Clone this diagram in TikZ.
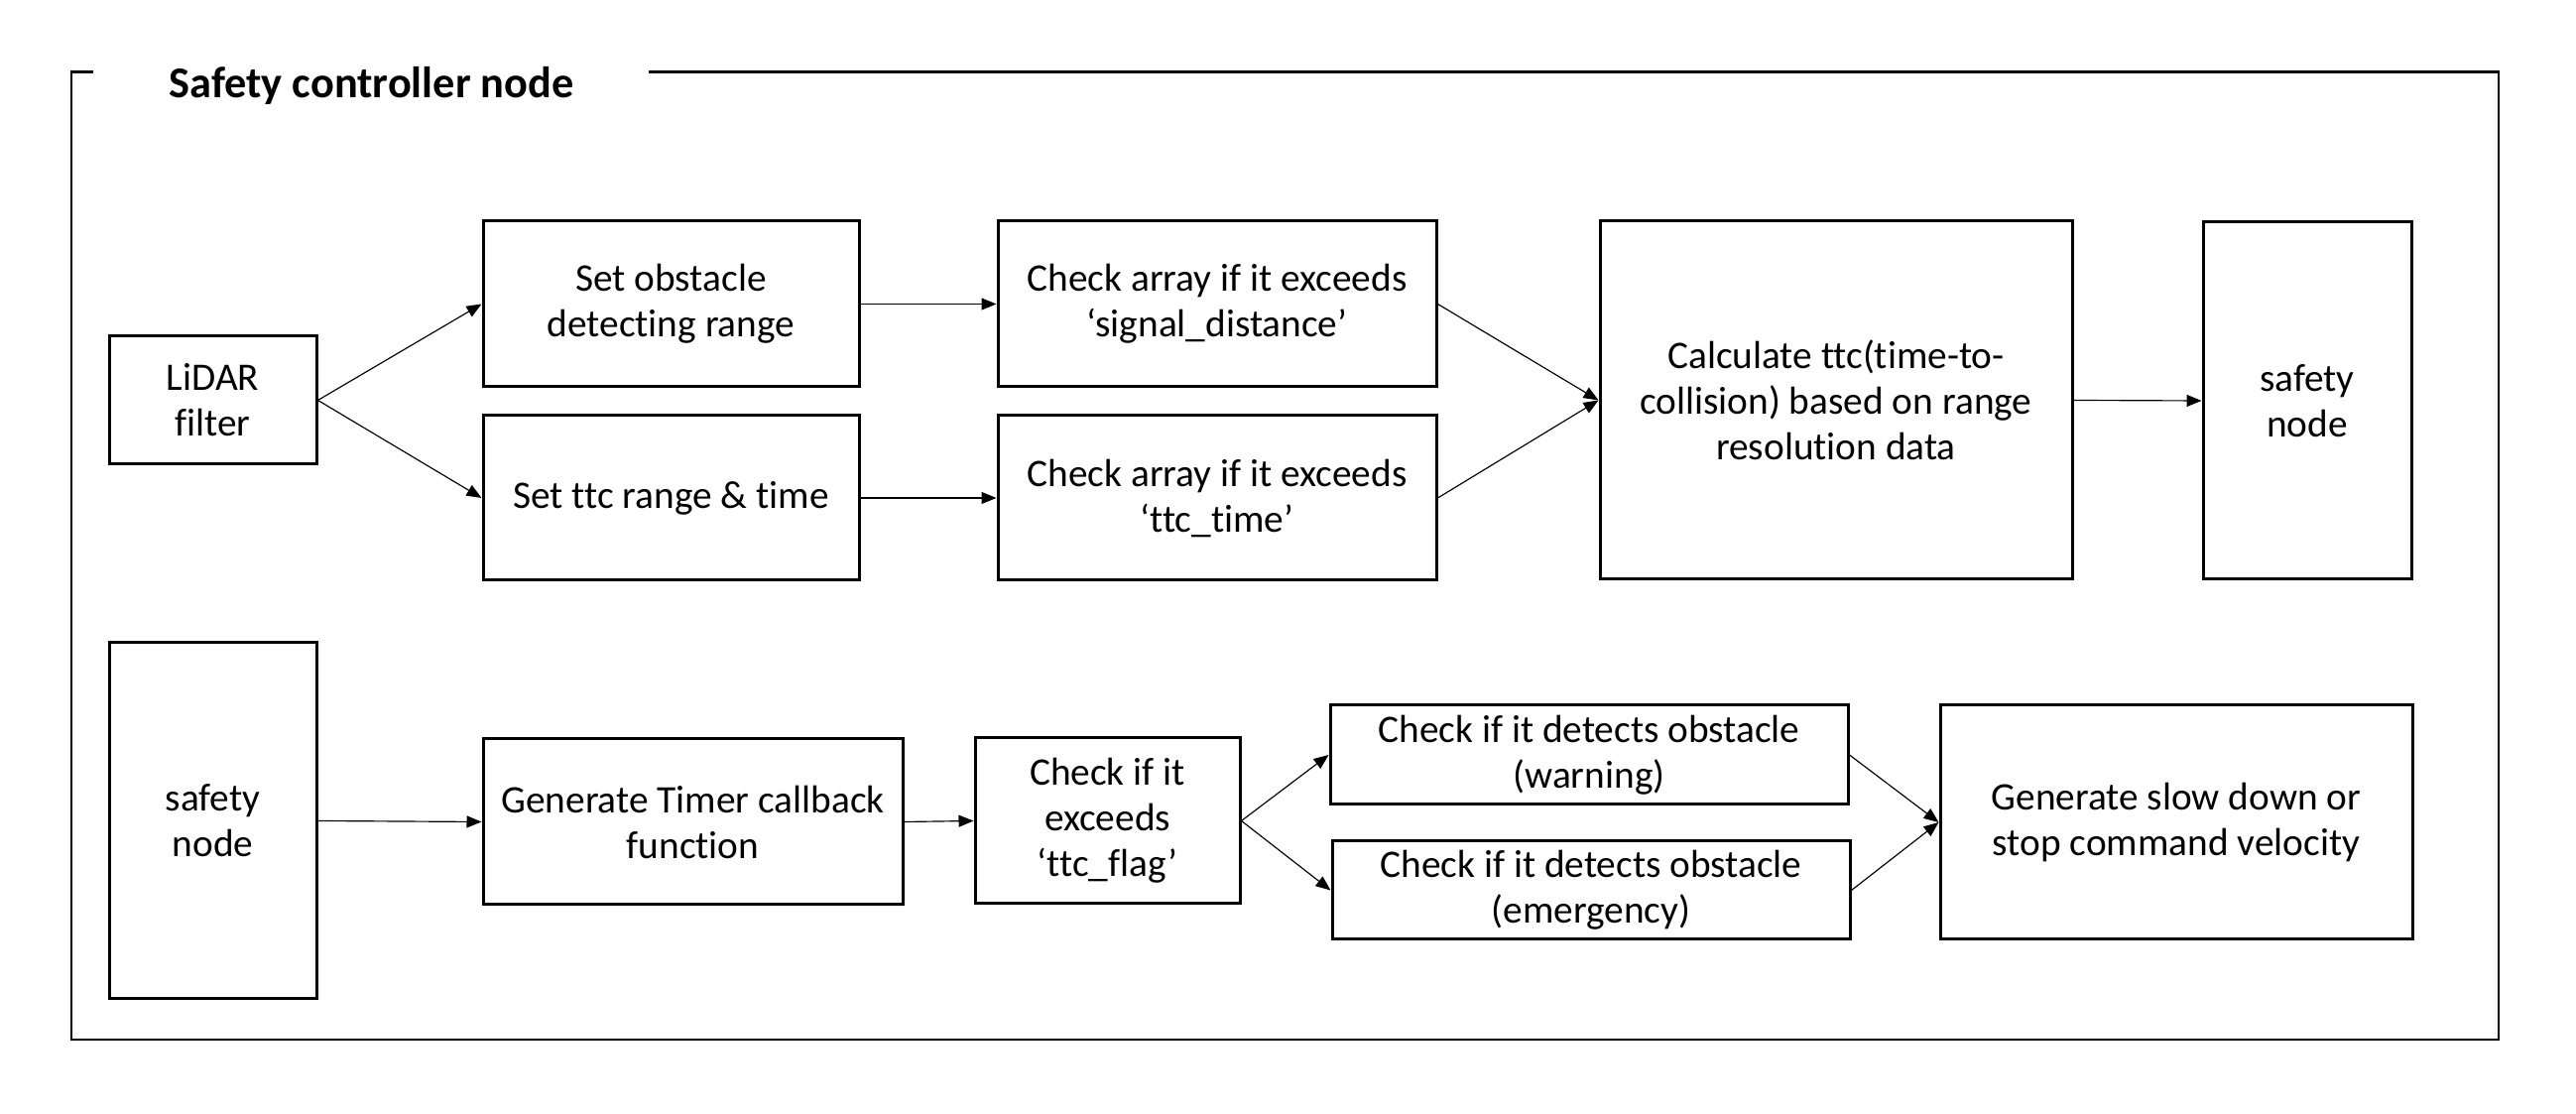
\documentclass[tikz,border=0pt]{standalone}
\usepackage{fontspec}
\setmainfont[Ligatures={NoCommon,TeX}]{Carlito}
\usetikzlibrary{arrows.meta}
\tikzset{
  box/.style={draw, line width=0.9pt, rectangle, inner sep=0pt, align=center,
    font=\fontsize{11.8}{13.8}\selectfont},
  conn/.style={line width=0.35pt, -{Triangle[length=4.5pt,width=3.6pt]}},
  frame/.style={line width=0.75pt}
}
\begin{document}
\begin{tikzpicture}[x=0.3pt,y=-0.3pt]
\useasboundingbox (0,0) rectangle (2597,1123);
% frame
\node[anchor=base west, inner sep=0pt, font=\fontsize{13.3}{15}\selectfont\bfseries] (title) at (170,99) {Safety controller node};
\draw[frame] (94,72.7) -- (72,72.7) -- (72,1048) -- (2519,1048) -- (2519,72.7) -- (654,72.7);
% top row
\node[box, minimum width=62.7pt, minimum height=38.7pt] (lidar) at (214.5,403.5) {LiDAR\\filter};
\node[box, minimum width=113.7pt, minimum height=50.1pt] (setobs) at (676.5,306.5) {Set obstacle\\detecting range};
\node[box, minimum width=113.7pt, minimum height=49.8pt] (setttc) at (676.5,502) {Set ttc range \& time};
\node[box, minimum width=132.6pt, minimum height=50.1pt] (chk1) at (1227,306.5) {Check array if it exceeds\\‘signal\_distance’};
\node[box, minimum width=132.6pt, minimum height=49.8pt] (chk2) at (1227,502) {Check array if it exceeds\\‘ttc\_time’};
\node[box, minimum width=142.8pt, minimum height=108.3pt] (calc) at (1851,403.5) {Calculate ttc(time-to-\\collision) based on range\\resolution data};
\node[box, minimum width=63pt, minimum height=108pt] (safe1) at (2326,404) {safety\\node};
% bottom row
\node[box, minimum width=62.7pt, minimum height=107.7pt] (safe2) at (214.5,827.5) {safety\\node};
\node[box, minimum width=126.9pt, minimum height=50.1pt] (timer) at (698.5,828.5) {Generate Timer callback\\function};
\node[box, minimum width=80.1pt, minimum height=50.1pt] (chk3) at (1116.5,827.5) {Check if it\\exceeds\\‘ttc\_flag’};
\node[box, minimum width=156.6pt, minimum height=30pt] (warn) at (1602,761) {Check if it detects obstacle\\(warning)};
\node[box, minimum width=156.6pt, minimum height=29.7pt] (emerg) at (1604,897.5) {Check if it detects obstacle\\(emergency)};
\node[box, minimum width=142.8pt, minimum height=70.8pt] (slow) at (2194,829) {Generate slow down or\\stop command velocity};
% connectors
\draw[conn] (lidar.east) -- (setobs.west);
\draw[conn] (lidar.east) -- (setttc.west);
\draw[conn] (setobs.east) -- (chk1.west);
\draw[conn] (setttc.east) -- (chk2.west);
\draw[conn] (chk1.east) -- (calc.west);
\draw[conn] (chk2.east) -- (calc.west);
\draw[conn] (calc.east) -- (safe1.west);
\draw[conn] (safe2.east) -- (timer.west);
\draw[conn] (timer.east) -- (chk3.west);
\draw[conn] (chk3.east) -- (warn.west);
\draw[conn] (chk3.east) -- (emerg.west);
\draw[conn] (warn.east) -- (slow.west);
\draw[conn] (emerg.east) -- (slow.west);
\end{tikzpicture}
\end{document}
